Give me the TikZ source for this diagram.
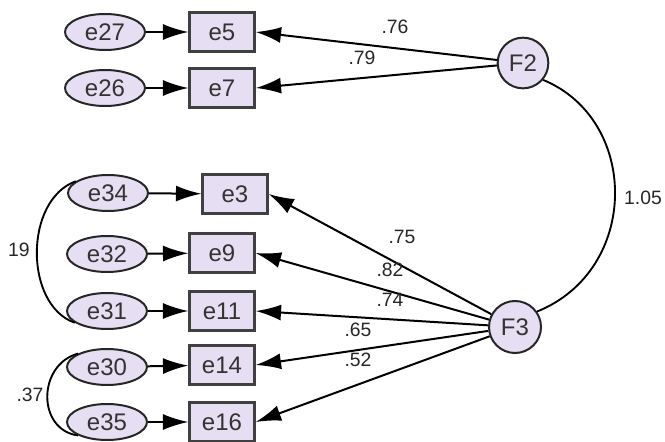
\documentclass[tikz,border=0pt]{standalone}
\usepackage{fontspec}
\setmainfont{Liberation Sans}
\usetikzlibrary{arrows.meta,shapes.geometric}
\definecolor{lav}{HTML}{E6DEF2}
\begin{document}
\begin{tikzpicture}[x=0.75pt,y=-0.75pt,
  err/.style={ellipse, draw=black!85, line width=1.5pt, fill=lav, minimum width=60pt, minimum height=27pt, inner sep=0pt, font=\fontsize{18}{18}\selectfont, text=black!80},
  obs/.style={rectangle, draw=black!75, line width=1.8pt, fill=lav, minimum width=48.75pt, minimum height=29pt, inner sep=0pt, font=\fontsize{18}{18}\selectfont, text=black!80},
  lat/.style={circle, draw=black!85, line width=1.5pt, fill=lav, minimum size=38pt, inner sep=0pt, font=\fontsize{18}{18}\selectfont, text=black!80},
  reg/.style={line width=1.5pt, -{Latex[length=19pt,width=12pt]}},
  cov/.style={line width=1.4pt},
  lbl/.style={font=\fontsize{14.5}{14.5}\selectfont, inner sep=0pt, text=black!85}]
\useasboundingbox (0,0) rectangle (665,442);
% error terms
\node[err] (e27) at (105,32) {e27};
\node[err] (e26) at (105,88) {e26};
\node[err] (e34) at (108,193) {e34};
\node[err] (e32) at (107,254) {e32};
\node[err] (e31) at (107,311) {e31};
\node[err] (e30) at (107,367) {e30};
\node[err] (e35) at (107,422) {e35};
% observed
\node[obs] (e5) at (222,32) {e5};
\node[obs] (e7) at (222,88) {e7};
\node[obs] (e3) at (235,194) {e3};
\node[obs] (e9) at (222,253) {e9};
\node[obs] (e11) at (222,311) {e11};
\node[obs] (e14) at (222,365) {e14};
\node[obs] (e16) at (222,422) {e16};
% latent
\node[lat] (F2) at (523,63) {F2};
\node[lat, minimum size=39pt] (F3) at (515,327) {F3};
% error arrows
\foreach \a/\b in {e27/e5,e26/e7,e34/e3,e32/e9,e31/e11,e30/e14,e35/e16}
  \draw[reg] (\a) -- (\b);
% loadings
\draw[reg] (F2) -- (e5.east);
\draw[reg] (F2) -- (e7.east);
\foreach \b in {e3,e9,e11,e14,e16}
  \draw[reg] (F3) -- (\b.east);
% covariances
\draw[cov] (F2.-40) .. controls (640,120) and (640,270) .. (F3.35);
\draw[cov] (e34.160) .. controls (24,200) and (24,305) .. (e31.200);
\draw[cov] (e30.155) .. controls (37,365) and (37,430) .. (e35.205);
% labels
\node[lbl] (l76) at (395,27) {.76};
\node[lbl] (l79) at (362,58) {.79};
\node[lbl] (l105) at (643,198) {1.05};
\node[lbl] (l75) at (402,237) {.75};
\node[lbl] (l82) at (390,270) {.82};
\node[lbl] (l74) at (390,300) {.74};
\node[lbl] (l65) at (358,330) {.65};
\node[lbl] (l52) at (358,360) {.52};
\node[lbl] (l19) at (19,250) {19};
\node[lbl] (l37) at (30,395) {.37};
\end{tikzpicture}
\end{document}
